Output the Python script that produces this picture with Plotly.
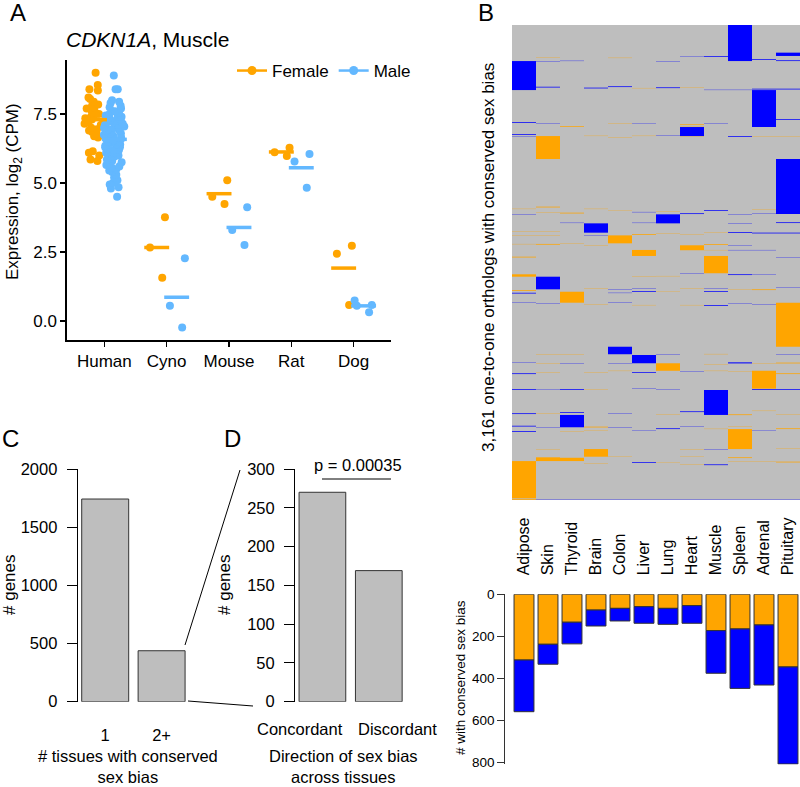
import numpy as np
import plotly.graph_objects as go

W, H = 800, 787
def px_x(p):
    return p / W
def px_y(p):
    return 1 - p / H

FONT = "Liberation Sans, Arial, Helvetica, sans-serif"
ORANGE = "#FFA500"
LIGHTBLUE = "#63B8FF"
BLUE = "#0000FF"
GRAY = "#BEBEBE"
EDGE = "#333333"

# ---------------- Panel A data (CDKN1A, Muscle; log2 CPM) ----------------
species = ["Human", "Cyno", "Mouse", "Rat", "Dog"]
human_female = [9.0, 8.55, 8.4, 8.35, 8.1, 8.05, 7.95, 7.85, 7.8, 7.75, 7.7, 7.6, 7.55, 7.5,
                7.45, 7.4, 7.35, 7.3, 7.25, 7.2, 7.15, 7.1, 7.0, 6.95, 6.9, 6.85, 6.8, 6.7,
                6.65, 6.15, 6.1, 6.0, 5.85, 5.8]
human_male = [8.9, 8.4, 8.4, 8.0, 7.95, 7.9, 7.8, 7.75, 7.7, 7.6, 7.6, 7.55, 7.5, 7.45, 7.4,
              7.4, 7.35, 7.3, 7.3, 7.25, 7.2, 7.2, 7.15, 7.1, 7.1, 7.05, 7.0, 7.0, 7.0, 6.95,
              6.9, 6.9, 6.85, 6.8, 6.8, 6.75, 6.7, 6.7, 6.65, 6.6, 6.6, 6.55, 6.5, 6.5, 6.45,
              6.4, 6.4, 6.35, 6.3, 6.3, 6.25, 6.2, 6.2, 6.15, 6.1, 6.1, 6.05, 6.0, 6.0, 5.95,
              5.9, 5.85, 5.8, 5.75, 5.7, 5.65, 5.6, 5.55, 5.5, 5.45, 5.4, 5.3, 5.2, 5.1, 5.0,
              4.95, 4.85, 4.8, 4.5]
cyno_female = [3.76, 2.66, 1.57]
cyno_male = [2.27, 0.55, -0.24]
mouse_female = [5.10, 4.50, 4.24]
mouse_male = [4.12, 3.30, 2.75]
rat_female = [6.28, 6.12, 5.98]
rat_male = [6.05, 5.78, 4.83]
dog_female = [2.73, 2.44, 0.58]
dog_male = [0.74, 0.58, 0.55, 0.32]

# ---------------- Panel B data ----------------
tissues = ["Adipose", "Skin", "Thyroid", "Brain", "Colon", "Liver", "Lung", "Heart",
           "Muscle", "Spleen", "Adrenal", "Pituitary"]
n_orthologs = 3161
# runs of consecutive ortholog rows with conserved male bias: (tissue, first row, n rows)
male_runs = [
    ("Spleen", 0, 240), ("Adipose", 240, 193), ("Adrenal", 433, 246), ("Heart", 679, 60),
    ("Pituitary", 892, 366), ("Lung", 1260, 60), ("Brain", 1320, 62), ("Skin", 1675, 84),
    ("Colon", 2141, 50), ("Liver", 2196, 55), ("Muscle", 2429, 166), ("Thyroid", 2595, 82),
    ("Pituitary", 184, 22),
    ("Adipose", 646, 5), ("Adipose", 727, 5), ("Adipose", 743, 2), ("Adipose", 1260, 2),
    ("Adipose", 1782, 5), ("Adipose", 1848, 2), ("Adipose", 2245, 2), ("Adipose", 2318, 5),
    ("Adipose", 2424, 5), ("Adipose", 2584, 5), ("Adipose", 2667, 5), ("Adipose", 2702, 5),
    ("Skin", 240, 2), ("Skin", 411, 5), ("Skin", 654, 2), ("Skin", 1852, 2), ("Skin", 2424, 2),
    ("Skin", 2677, 2),
    ("Thyroid", 238, 2), ("Thyroid", 1316, 2), ("Thyroid", 2251, 2), ("Thyroid", 2424, 5),
    ("Thyroid", 2577, 5),
    ("Brain", 417, 5), ("Brain", 1400, 2),
    ("Colon", 408, 5), ("Colon", 1759, 2), ("Colon", 1782, 2), ("Colon", 1848, 2),
    ("Colon", 2251, 2), ("Colon", 2584, 2), ("Colon", 2677, 2),
    ("Liver", 652, 2), ("Liver", 1244, 2), ("Liver", 1316, 2), ("Liver", 1752, 2),
    ("Liver", 1770, 5), ("Liver", 2311, 5), ("Liver", 2420, 2), ("Liver", 2695, 2),
    ("Liver", 2910, 5),
    ("Lung", 240, 2), ("Lung", 415, 5), ("Lung", 732, 2), ("Lung", 2191, 2), ("Lung", 2424, 2),
    ("Lung", 2684, 5),
    ("Heart", 208, 2), ("Heart", 1253, 5), ("Heart", 1655, 2), ("Heart", 2305, 2),
    ("Heart", 2571, 5), ("Heart", 2673, 2),
    ("Muscle", 208, 5), ("Muscle", 431, 2), ("Muscle", 654, 2), ("Muscle", 1231, 5),
    ("Muscle", 1752, 2), ("Muscle", 1770, 5), ("Muscle", 1865, 5), ("Muscle", 2824, 2),
    ("Muscle", 2924, 5),
    ("Spleen", 431, 2), ("Spleen", 739, 5), ("Spleen", 1260, 2), ("Spleen", 1320, 2),
    ("Spleen", 1378, 5), ("Spleen", 1464, 2), ("Spleen", 1497, 2), ("Spleen", 1659, 5),
    ("Spleen", 1852, 2), ("Spleen", 2245, 7),
    ("Adrenal", 228, 5), ("Adrenal", 424, 5), ("Adrenal", 626, 5), ("Adrenal", 1253, 2),
    ("Adrenal", 1382, 5), ("Adrenal", 1497, 2), ("Adrenal", 1659, 2), ("Adrenal", 1859, 2),
    ("Adrenal", 2424, 5), ("Adrenal", 2695, 2),
    ("Pituitary", 235, 5), ("Pituitary", 424, 5), ("Pituitary", 626, 5), ("Pituitary", 1313, 5),
    ("Pituitary", 1382, 5), ("Pituitary", 1546, 2), ("Pituitary", 1746, 2), ("Pituitary", 2191, 2),
    ("Pituitary", 2424, 5),
    ("Skin", 3158, 2), ("Thyroid", 3158, 2), ("Brain", 3158, 2), ("Colon", 3158, 2),
    ("Liver", 3158, 2), ("Lung", 3158, 2), ("Heart", 3158, 2), ("Muscle", 3158, 2),
    ("Spleen", 3158, 2), ("Adrenal", 3158, 2), ("Pituitary", 3158, 2),
]
# runs of consecutive ortholog rows with conserved female bias
female_runs = [
    ("Skin", 739, 153), ("Colon", 1400, 53), ("Heart", 1466, 33), ("Liver", 1497, 40),
    ("Muscle", 1537, 115), ("Adipose", 1659, 16), ("Thyroid", 1775, 73), ("Pituitary", 1848, 293),
    ("Lung", 2251, 50), ("Adrenal", 2301, 119), ("Spleen", 2689, 133), ("Brain", 2822, 51),
    ("Skin", 2877, 25), ("Thyroid", 2880, 22), ("Adipose", 2902, 248),
    ("Adipose", 1223, 2), ("Adipose", 1371, 2), ("Adipose", 1402, 2), ("Adipose", 1457, 2),
    ("Adipose", 1542, 5), ("Adipose", 1764, 5), ("Adipose", 3155, 5),
    ("Skin", 215, 2), ("Skin", 1209, 5), ("Skin", 1249, 2), ("Skin", 1371, 2), ("Skin", 1398, 2),
    ("Skin", 1457, 5), ("Skin", 2191, 2), ("Skin", 2251, 2), ("Skin", 2311, 2), ("Skin", 2584, 2),
    ("Skin", 2824, 2),
    ("Thyroid", 674, 5), ("Thyroid", 1249, 5), ("Thyroid", 1453, 2), ("Thyroid", 2191, 2),
    ("Thyroid", 2706, 2),
    ("Brain", 737, 2), ("Brain", 1223, 2), ("Brain", 1466, 2), ("Brain", 1752, 2),
    ("Brain", 1859, 2), ("Brain", 2311, 2), ("Brain", 2424, 2), ("Brain", 2673, 5),
    ("Brain", 2695, 2), ("Brain", 2917, 2),
    ("Colon", 218, 2), ("Colon", 654, 2), ("Colon", 750, 2), ("Colon", 1236, 2),
    ("Colon", 2301, 2), ("Colon", 2873, 2),
    ("Liver", 419, 2), ("Liver", 737, 2), ("Liver", 1391, 5), ("Liver", 1675, 2), ("Liver", 1863, 2),
    ("Lung", 1242, 2), ("Lung", 1386, 2), ("Lung", 1670, 2), ("Lung", 1775, 2), ("Lung", 2591, 2),
    ("Lung", 2913, 2),
    ("Heart", 415, 2), ("Heart", 661, 5), ("Heart", 675, 2), ("Heart", 739, 2), ("Heart", 1391, 2),
    ("Heart", 1752, 2), ("Heart", 1863, 2), ("Heart", 2824, 2), ("Heart", 2873, 2), ("Heart", 2924, 2),
    ("Muscle", 1382, 2), ("Muscle", 1459, 5), ("Muscle", 1497, 2), ("Muscle", 2189, 2),
    ("Muscle", 2256, 2), ("Muscle", 2301, 2), ("Muscle", 2687, 2),
    ("Spleen", 1757, 2), ("Spleen", 2305, 2), ("Spleen", 2591, 5), ("Spleen", 2673, 2),
    ("Spleen", 2877, 5), ("Spleen", 2902, 2),
    ("Adrenal", 739, 2), ("Adrenal", 1227, 2), ("Adrenal", 1759, 5), ("Adrenal", 2251, 2),
    ("Adrenal", 2567, 2), ("Adrenal", 2902, 2),
    ("Pituitary", 739, 2), ("Pituitary", 2247, 5), ("Pituitary", 2318, 5), ("Pituitary", 2591, 2),
    ("Pituitary", 2684, 5), ("Pituitary", 2817, 2), ("Pituitary", 2906, 5),
]
female_counts = [313, 238, 133, 75, 67, 59, 67, 54, 173, 165, 146, 346]
male_counts = [246, 95, 103, 76, 60, 79, 76, 84, 203, 283, 286, 462]

# ---------------- Panels C & D ----------------
c_categories = ["1", "2+"]
c_values = [1742, 438]
d_categories = ["Concordant", "Discordant"]
d_values = [270, 169]
p_value_label = "p = 0.00035"

fig = go.Figure()

# ---- Panel A: jittered points + mean bars ----
female_groups = [human_female, cyno_female, mouse_female, rat_female, dog_female]
male_groups = [human_male, cyno_male, mouse_male, rat_male, dog_male]
dodge = 0.16
for i, (fv, mv) in enumerate(zip(female_groups, male_groups)):
    for vals, off, col in ((fv, -dodge, ORANGE), (mv, dodge, LIGHTBLUE)):
        pos = i + 1 + off
        fig.add_trace(go.Box(
            x=[pos] * len(vals), y=vals, xaxis="x", yaxis="y",
            boxpoints="all", jitter=1.0, pointpos=0, width=0.34,
            fillcolor="rgba(0,0,0,0)", line=dict(width=0, color="rgba(0,0,0,0)"),
            marker=dict(color=col, size=8, opacity=1), showlegend=False, whiskerwidth=0))
for i, (fv, mv) in enumerate(zip(female_groups, male_groups)):
    for vals, off, col in ((fv, -dodge, ORANGE), (mv, dodge, LIGHTBLUE)):
        pos = i + 1 + off
        m = float(np.mean(vals))
        fig.add_trace(go.Scatter(x=[pos - 0.2, pos + 0.2], y=[m, m], mode="lines",
                                 line=dict(color=col, width=3.5), xaxis="x", yaxis="y",
                                 showlegend=False))
for name, col in (("Female", ORANGE), ("Male", LIGHTBLUE)):
    fig.add_trace(go.Scatter(x=[None], y=[None], mode="lines+markers", name=name,
                             line=dict(color=col, width=2.5), marker=dict(color=col, size=9),
                             xaxis="x", yaxis="y", showlegend=True))

# ---- Panel B heatmap (drawn as column runs over the gray "no conserved bias" cells) ----
fig.add_trace(go.Bar(x=tissues, y=[n_orthologs] * len(tissues), base=[0] * len(tissues),
                     width=1, marker=dict(color=GRAY, line=dict(width=0)),
                     xaxis="x2", yaxis="y2", showlegend=False))
for runs, col in ((female_runs, ORANGE), (male_runs, BLUE)):
    fig.add_trace(go.Bar(x=[r[0] for r in runs], base=[r[1] for r in runs],
                         y=[r[2] for r in runs], width=1,
                         marker=dict(color=col, line=dict(width=0)),
                         xaxis="x2", yaxis="y2", showlegend=False))

# ---- Panel B bottom stacked bars ----
fig.add_trace(go.Bar(x=tissues, y=female_counts, base=[0] * len(tissues), width=0.83,
                     marker=dict(color=ORANGE, line=dict(color=EDGE, width=1)),
                     xaxis="x3", yaxis="y3", showlegend=False))
fig.add_trace(go.Bar(x=tissues, y=male_counts, base=female_counts, width=0.83,
                     marker=dict(color=BLUE, line=dict(color=EDGE, width=1)),
                     xaxis="x3", yaxis="y3", showlegend=False))

# ---- Panels C, D ----
fig.add_trace(go.Bar(x=c_categories, y=c_values, width=0.833,
                     marker=dict(color=GRAY, line=dict(color=EDGE, width=1)),
                     xaxis="x4", yaxis="y4", showlegend=False))
fig.add_trace(go.Bar(x=d_categories, y=d_values, width=0.828,
                     marker=dict(color=GRAY, line=dict(color=EDGE, width=1)),
                     xaxis="x5", yaxis="y5", showlegend=False))

noaxis = dict(showgrid=False, zeroline=False, automargin=False)
tick_common = dict(tickcolor="black", linecolor="black")

# Panel C/D geometry
c_left, c_cat0, c_step = 77.7, 105.2, 56.4
d_left, d_cat0 = 295.0, 322.4
bar_bottom_px, bar_top_px = 701.7, 469.0
hb_top, hb_bottom = 25.0, 500.0
bb_zero, bb_scale, bb_max = 594.3, 0.21, 810

fig.update_layout(
    width=W, height=H, autosize=False, margin=dict(l=0, r=0, t=0, b=0, pad=0),
    paper_bgcolor="white", plot_bgcolor="white",
    barmode="overlay", boxmode="overlay",
    font=dict(family=FONT, color="black", size=16),
    legend=dict(orientation="h", x=px_x(232), y=px_y(53), xanchor="left", yanchor="top",
                bgcolor="rgba(0,0,0,0)", font=dict(size=17), itemwidth=30,
                tracegroupgap=0),
    xaxis=dict(domain=[px_x(67), px_x(391)], range=[0.4, 5.6], tickvals=[1, 2, 3, 4, 5],
               ticktext=species, ticks="outside", ticklen=5, tickwidth=1.5, showline=True,
               linewidth=1.6, tickfont=dict(size=17), anchor="y", **noaxis, **tick_common),
    yaxis=dict(domain=[px_y(340), px_y(60)], range=[-0.69, 9.46], tickvals=[0, 2.5, 5, 7.5],
               ticktext=["0.0", "2.5", "5.0", "7.5"], ticks="outside", ticklen=5, tickwidth=1.5,
               showline=True, linewidth=1.6, tickfont=dict(size=17), anchor="x",
               **noaxis, **tick_common),
    xaxis2=dict(domain=[px_x(512), 1], range=[-0.5, 11.5], categoryorder="array",
                categoryarray=tissues, visible=False, anchor="y2", **noaxis),
    yaxis2=dict(domain=[px_y(hb_bottom), px_y(hb_top)], range=[n_orthologs, 0], visible=False,
                anchor="x2", **noaxis),
    xaxis3=dict(domain=[px_x(512), 1], range=[-0.5, 11.5], categoryorder="array",
                categoryarray=tissues, side="top", tickangle=-90, ticks="", showline=False,
                tickfont=dict(size=16), anchor="y3", ticklabelstandoff=18, **noaxis),
    yaxis3=dict(domain=[px_y(bb_zero + bb_max * bb_scale), px_y(bb_zero)], range=[bb_max, 0],
                anchor="free", position=px_x(504.3), tickvals=[0, 200, 400, 600, 800],
                ticks="outside", ticklen=7, tickwidth=1, showline=True, linewidth=1,
                linecolor=EDGE, tickcolor=EDGE, tickfont=dict(size=13.5), **noaxis),
    xaxis4=dict(domain=[px_x(c_left), px_x(190)],
                range=[-(c_cat0 - c_left) / c_step, (190 - c_cat0) / c_step],
                ticks="", showline=False, tickfont=dict(size=16.5), anchor="y4",
                tickangle=0, ticklabelstandoff=22, **noaxis),
    yaxis4=dict(domain=[px_y(bar_bottom_px), px_y(bar_top_px)], range=[0, 2000],
                tickvals=[0, 500, 1000, 1500, 2000], ticks="outside", ticklen=10, tickwidth=1,
                showline=True, linewidth=1, tickfont=dict(size=16.5), anchor="x4",
                ticklabelstandoff=6, **noaxis, **tick_common),
    xaxis5=dict(domain=[px_x(d_left), px_x(420)],
                range=[-(d_cat0 - d_left) / c_step, (420 - d_cat0) / c_step],
                ticks="", showline=False, showticklabels=False, anchor="y5", **noaxis),
    yaxis5=dict(domain=[px_y(bar_bottom_px), px_y(bar_top_px)], range=[0, 300],
                tickvals=[0, 50, 100, 150, 200, 250, 300], ticks="outside", ticklen=10,
                tickwidth=1, showline=True, linewidth=1, tickfont=dict(size=16.5),
                anchor="x5", ticklabelstandoff=6, **noaxis, **tick_common),
)

def ann(text, x, y, size, xanchor="center", yanchor="middle", angle=0):
    return dict(text=text, x=px_x(x), y=px_y(y), xref="paper", yref="paper",
                xanchor=xanchor, yanchor=yanchor, showarrow=False, textangle=angle,
                font=dict(size=size, family=FONT, color="black"))

annotations = [
    ann("A", 8, 13, 24, xanchor="left"),
    ann("B", 476, 13, 24, xanchor="left"),
    ann("C", 0, 438, 24, xanchor="left"),
    ann("D", 222, 438, 24, xanchor="left"),
    ann("<i>CDKN1A</i>, Muscle", 64, 40, 21, xanchor="left"),
    ann("Expression, log<sub>2</sub> (CPM)", 14, 192, 17, angle=-90),
    ann("3,161 one-to-one orthologs with conserved sex bias", 489, 257, 17, angle=-90),
    ann("# with conserved sex bias", 460, 677, 13.5, angle=-90),
    ann("# genes", 9, 585, 17, angle=-90),
    ann("# genes", 224, 585, 17, angle=-90),
    ann(d_categories[0], 300, 729, 16.5),
    ann(d_categories[1], 397, 729, 16.5),
    ann("# tissues with conserved<br>sex bias", 128, 788, 16.5, yanchor="bottom"),
    ann("Direction of sex bias<br>across tissues", 343, 788, 16.5, yanchor="bottom"),
    ann(p_value_label, 358, 465, 16.5),
]

shapes = [
    dict(type="rect", xref="x2 domain", yref="y2 domain", x0=0, x1=1, y0=0, y1=1,
         fillcolor=GRAY, line=dict(width=0), layer="below"),
    dict(type="line", xref="paper", yref="paper", x0=px_x(185), y0=px_y(645),
         x1=px_x(240), y1=px_y(470), line=dict(color="black", width=1)),
    dict(type="line", xref="paper", yref="paper", x0=px_x(188), y0=px_y(701),
         x1=px_x(253), y1=px_y(706), line=dict(color="black", width=1)),
    dict(type="line", xref="paper", yref="paper", x0=px_x(322), y0=px_y(479),
         x1=px_x(391), y1=px_y(479), line=dict(color="black", width=1)),
]
fig.update_layout(annotations=annotations, shapes=shapes)

fig.write_html("out.html", config={"staticPlot": True},
               post_script="document.body.style.margin='0px';"
                           "document.body.style.overflow='hidden';"
                           "document.documentElement.style.overflow='hidden';")
